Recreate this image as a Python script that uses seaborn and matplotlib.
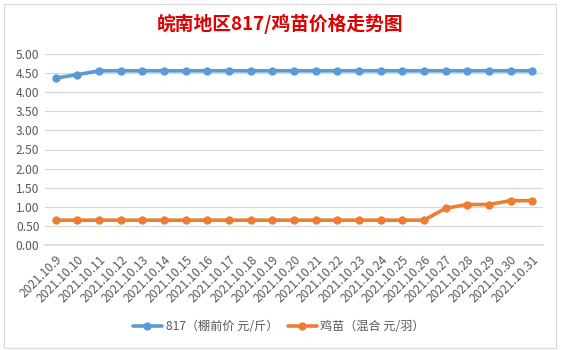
import matplotlib
matplotlib.use("Agg")
import matplotlib.pyplot as plt
import seaborn as sns
import pandas as pd

dates = ["2021.10.9"] + [f"2021.10.{d}" for d in range(10, 32)]
price_817 = [4.37, 4.46, 4.56, 4.56, 4.56, 4.56, 4.56, 4.56, 4.56, 4.56, 4.56, 4.56,
             4.56, 4.56, 4.56, 4.56, 4.56, 4.56, 4.56, 4.56, 4.56, 4.56, 4.56]
price_chick = [0.65, 0.65, 0.65, 0.65, 0.65, 0.65, 0.65, 0.65, 0.65, 0.65, 0.65, 0.65,
               0.65, 0.65, 0.65, 0.65, 0.65, 0.65, 0.96, 1.06, 1.06, 1.16, 1.16]
series_names = ["817（棚前价 元/斤）", "鸡苗（混合 元/羽）"]
title = "皖南地区817/鸡苗价格走势图"
colors = ["#5B9BD5", "#ED7D31"]

df = pd.concat([
    pd.DataFrame({"date": dates, "price": price_817, "series": series_names[0]}),
    pd.DataFrame({"date": dates, "price": price_chick, "series": series_names[1]}),
])

sns.set_theme(style="white")
plt.rcParams["font.family"] = ["Noto Sans CJK SC", "DejaVu Sans"]

fig = plt.figure(figsize=(5.61, 3.5), dpi=100)
ax = fig.add_axes([45 / 561, 1 - 245 / 350, (543 - 45) / 561, (245 - 54) / 350])

sns.lineplot(data=df, x="date", y="price", hue="series", palette=colors,
             marker="o", markersize=6, markeredgewidth=0, linewidth=2.6,
             sort=False, ax=ax)

ax.set_ylim(0, 5)
ax.set_yticks([i * 0.5 for i in range(11)])
ax.set_yticklabels([f"{i * 0.5:.2f}" for i in range(11)])
ax.set_xlim(-0.5, len(dates) - 0.5)
ax.set_xlabel("")
ax.set_ylabel("")
ax.yaxis.grid(True, color="#D9D9D9", linewidth=0.9)
ax.set_axisbelow(True)
for s in ["top", "right", "left"]:
    ax.spines[s].set_visible(False)
ax.spines["bottom"].set_color("#D9D9D9")
ax.tick_params(axis="both", length=0, colors="#595959", labelsize=8.7)
ax.tick_params(axis="y", pad=4)
plt.setp(ax.get_xticklabels(), rotation=45, ha="right", rotation_mode="anchor")
ax.tick_params(axis="x", pad=6)

handles, labels = ax.get_legend_handles_labels()
ax.get_legend().remove()
fig.legend(handles, labels, loc="center", bbox_to_anchor=(0.497, 1 - 327 / 350),
           ncol=2, frameon=False, fontsize=8.7, labelcolor="#595959",
           handlelength=2.4, columnspacing=0.8, handletextpad=0.3)

fig.text(0.5, 1 - 24 / 350, title, ha="center", va="center", color="#E00000",
         fontsize=13.5, fontweight="bold")

border = plt.Rectangle((4 / 561, 2 / 350), 552 / 561, 344 / 350, transform=fig.transFigure,
                       fill=False, edgecolor="#D9D9D9", linewidth=0.8)
fig.add_artist(border)

fig.savefig("out.png", dpi=100, facecolor="white")
